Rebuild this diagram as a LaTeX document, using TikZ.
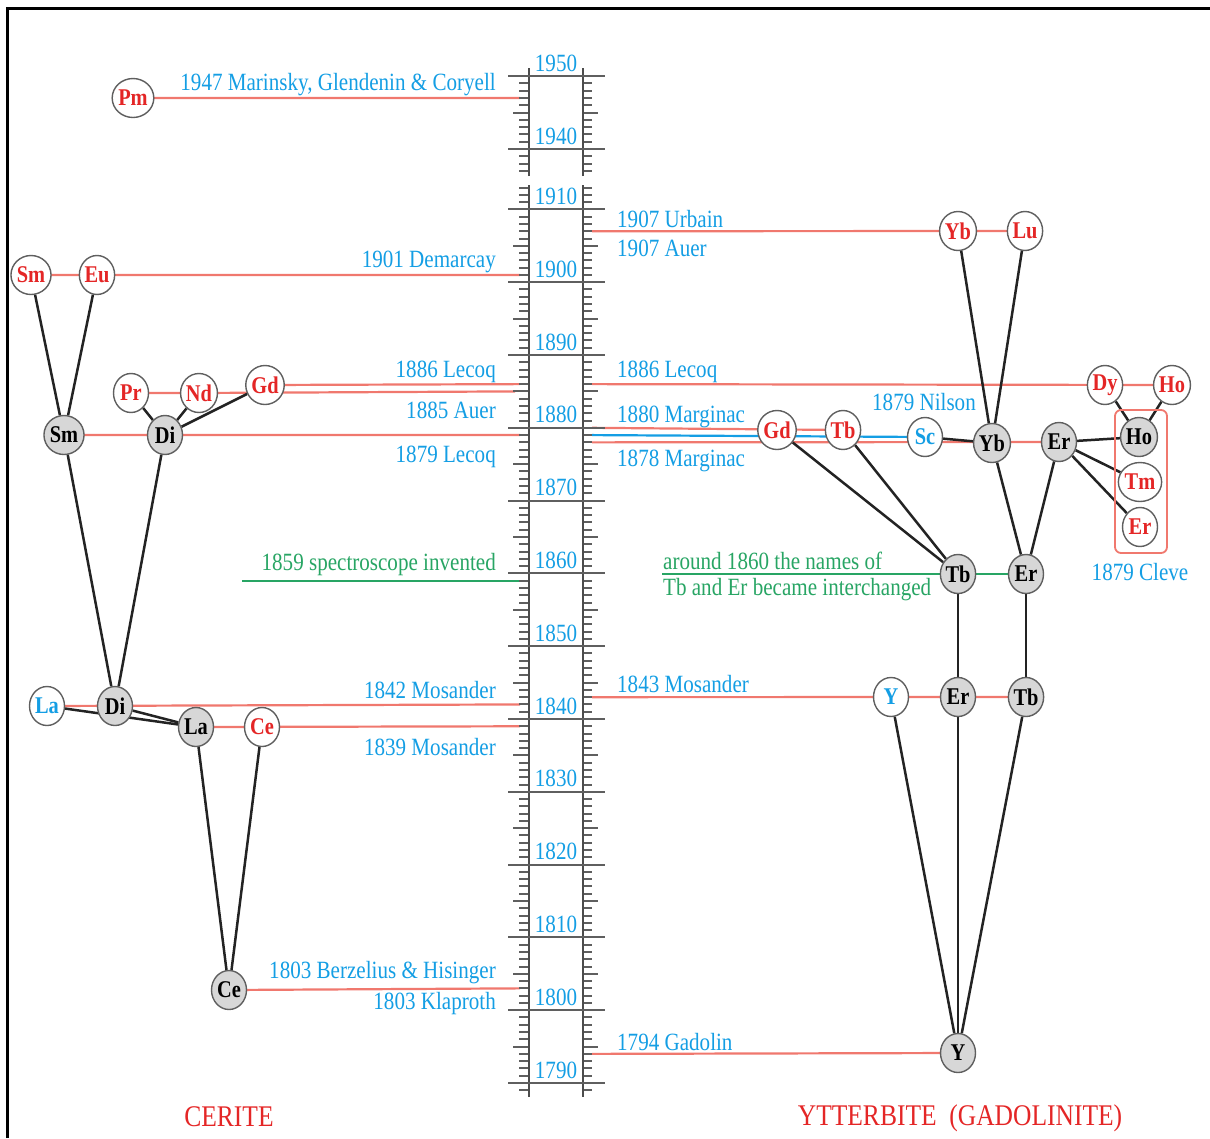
\documentclass[tikz,border=0pt]{standalone}
\usepackage{fontspec}
\setmainfont{Liberation Serif}[FakeStretch=0.85]
\usetikzlibrary{shapes.geometric,backgrounds}
\definecolor{tblue}{RGB}{20,158,228}
\definecolor{tred}{RGB}{228,38,38}
\definecolor{rline}{RGB}{240,120,110}
\definecolor{tgreen}{RGB}{40,165,100}
\definecolor{oldfill}{RGB}{215,215,215}
\definecolor{nodeborder}{RGB}{95,95,95}
\definecolor{connc}{RGB}{35,35,35}
\definecolor{tickc}{RGB}{95,95,95}
\newcommand\myelfont{\bfseries\fontsize{24}{26}\selectfont}
\newcommand\mylblfont{\fontsize{24.8}{28}\selectfont}
\newcommand\mytitlefont{\fontsize{30}{34}\selectfont}
\begin{document}
\begin{tikzpicture}[x=1pt,y=-1pt,
  declare function={yr(\t)=1083-(\t-1790)*7.28; yu(\t)=149-(\t-1940)*7.3;},
  el/.style={ellipse, draw=nodeborder, line width=1.4pt, minimum width=35pt, minimum height=39pt, inner sep=0pt, font=\myelfont},
  newel/.style={el, fill=white, text=tred},
  newbl/.style={el, fill=white, text=tblue},
  oldel/.style={el, fill=oldfill, text=black},
  rl/.style={draw=rline, line width=2.2pt},
  bll/.style={draw=tblue, line width=2.2pt},
  gl/.style={draw=tgreen, line width=2.2pt},
  conn/.style={draw=connc, line width=2.5pt},
  lbl/.style={font=\mylblfont, text=tblue, inner sep=0pt},
  glbl/.style={lbl, text=tgreen},
  ttl/.style={font=\mytitlefont, text=tred, inner sep=0pt},
  tck/.style={draw=tickc, line width=2pt},
  rail/.style={draw=tickc!80!black, line width=2.2pt}
]
\useasboundingbox (0,0) rectangle (1210,1138);
% frame
\draw[line width=3pt] (7,1138) -- (7,8) -- (1210,8);

% ---- axis ----
\foreach \t in {1789,...,1913} {
  \draw[tck] (519,{yr(\t)}) -- (529,{yr(\t)});
  \draw[tck] (583,{yr(\t)}) -- (592,{yr(\t)});
}
\foreach \t in {1795,1805,...,1905} {
  \draw[tck] (513,{yr(\t)}) -- (529,{yr(\t)});
  \draw[tck] (583,{yr(\t)}) -- (598,{yr(\t)});
}
\foreach \t in {1937,...,1950} {
  \draw[tck] (519,{yu(\t)}) -- (529,{yu(\t)});
  \draw[tck] (583,{yu(\t)}) -- (592,{yu(\t)});
}
\draw[tck] (513,{yu(1945)}) -- (529,{yu(1945)});
\draw[tck] (583,{yu(1945)}) -- (598,{yu(1945)});
\draw[rail] (529,{yr(1788.1)}) -- (529,{yr(1913.4)});
\draw[rail] (583,{yr(1788.1)}) -- (583,{yr(1913.4)});
\draw[rail] (529,{yu(1936.3)}) -- (529,{yu(1951.1)});
\draw[rail] (583,{yu(1936.3)}) -- (583,{yu(1951.1)});
\foreach \t in {1790,1800,...,1910} {
  \draw[tck] (508,{yr(\t)}) -- (605,{yr(\t)});
  \node[lbl] (ax\t) at (556,{yr(\t)-13}) {\t};
}
\foreach \t in {1940,1950} {
  \draw[tck] (508,{yu(\t)}) -- (605,{yu(\t)});
  \node[lbl] (ax\t) at (556,{yu(\t)-13}) {\t};
}

% ---- left nodes (CERITE) ----
\node[newel] (Pm) at (133,98) {Pm};
\node[newel] (SmA) at (31,275) {Sm};
\node[newel] (Eu) at (97,275) {Eu};
\node[newel] (Pr) at (131,393) {Pr};
\node[newel] (Nd) at (199,393) {Nd};
\node[newel] (GdL) at (265,385) {Gd};
\node[oldel] (SmB) at (64,435) {Sm};
\node[oldel] (DiA) at (165,435) {Di};
\node[newbl] (LaB) at (47,706) {La};
\node[oldel] (DiB) at (115,706) {Di};
\node[oldel] (LaA) at (196,727) {La};
\node[newel] (CeB) at (262,727) {Ce};
\node[oldel] (CeA) at (229,990) {Ce};

% ---- right nodes (YTTERBITE) ----
\node[newel] (YbW) at (958,231) {Yb};
\node[newel] (Lu) at (1025,231) {Lu};
\node[newel] (Dy) at (1105,385) {Dy};
\node[newel] (HoW) at (1172,385) {Ho};
\node[newel] (GdR) at (777,430) {Gd};
\node[newel] (TbR) at (843,430) {Tb};
\node[newbl] (Sc) at (925,437) {Sc};
\node[oldel] (YbG) at (992,443) {Yb};
\node[oldel] (ErA) at (1059,442) {Er};
\node[oldel] (HoG) at (1139,437) {Ho};
\node[newel] (Tm) at (1140,482) {Tm};
\node[newel] (ErW) at (1140,527) {Er};
\node[oldel] (TbB) at (958,574) {Tb};
\node[oldel] (ErB) at (1026,574) {Er};
\node[newbl] (YW) at (891,697) {Y};
\node[oldel] (ErC) at (958,697) {Er};
\node[oldel] (TbC) at (1026,697) {Tb};
\node[oldel] (YG) at (958,1053) {Y};

\draw[rline, line width=1.8pt, rounded corners=6pt] (1115,410) rectangle (1167,553);

% ---- line end points at the axis ----
\coordinate (e1947) at (520,{yu(1947)});
\coordinate (e1901) at (520,{yr(1901)});
\coordinate (e1886L) at (520,{yr(1886)});
\coordinate (e1885) at (515,{yr(1885)});
\coordinate (e1879L) at (520,{yr(1879)});
\coordinate (e1859a) at (242,{yr(1859)});
\coordinate (e1859b) at (520,{yr(1859)});
\coordinate (e1842) at (520,{yr(1842)});
\coordinate (e1839) at (520,{yr(1839)});
\coordinate (e1803) at (520,{yr(1803)});
\coordinate (e1907) at (592,{yr(1907)});
\coordinate (e1886R) at (592,{yr(1886)});
\coordinate (e1880) at (592,{yr(1880)});
\coordinate (e1879R) at (592,{yr(1879)});
\coordinate (e1878) at (592,{yr(1878)});
\coordinate (e1860) at (662,574);
\coordinate (e1843) at (592,{yr(1843)});
\coordinate (e1794) at (592,{yr(1794)});
\coordinate (gA1) at (520,{yr(1879)});
\coordinate (gA2) at (529,{yr(1879)});
\coordinate (gB1) at (583,{yr(1879)});
\coordinate (gB2) at (592,{yr(1879)});

\begin{pgfonlayer}{background}
  % dated lines
  \draw[rl] (Pm.center) -- (e1947);
  \draw[rl] (SmA.center) -- (e1901);
  \draw[rl] (GdL.center) -- (e1886L);
  \draw[rl] (Pr.center) -- (Nd.center) -- (e1885);
  \draw[rl] (SmB.center) -- (e1879L);
  \draw[gl] (e1859a) -- (e1859b);
  \draw[rl] (LaB.center) -- (e1842);
  \draw[rl] (LaA.center) -- (e1839);
  \draw[rl] (CeA.center) -- (e1803);
  \draw[rl] (e1907) -- (Lu.center);
  \draw[rl] (e1886R) -- (HoW.center);
  \draw[rl] (e1880) -- (TbR.center);
  \draw[bll] (e1879R) -- (Sc.center);
  \draw[rl] (e1878) -- (ErA.center);
  \draw[gl] (e1860) -- (ErB.center);
  \draw[rl] (e1843) -- (TbC.center);
  \draw[rl] (e1794) -- (YG.center);
  \draw[gl] (gA1) -- (gA2);
  \draw[gl] (gB1) -- (gB2);
  % connectors
  \draw[conn] (SmA) -- (SmB);
  \draw[conn] (Eu) -- (SmB);
  \draw[conn] (Pr) -- (DiA);
  \draw[conn] (Nd) -- (DiA);
  \draw[conn] (GdL) -- (DiA);
  \draw[conn] (SmB) -- (DiB);
  \draw[conn] (DiA) -- (DiB);
  \draw[conn] (LaA.center) -- (LaB.center);
  \draw[conn] (LaA) -- (DiB);
  \draw[conn] (CeA) -- (LaA);
  \draw[conn] (CeA) -- (CeB);
  \draw[conn] (YbG) -- (YbW);
  \draw[conn] (YbG) -- (Lu);
  \draw[conn] (Dy) -- (HoG);
  \draw[conn] (HoW) -- (HoG);
  \draw[conn] (ErA) -- (HoG);
  \draw[conn] (ErA) -- (Tm);
  \draw[conn] (ErA) -- (ErW);
  \draw[conn] (Sc) -- (YbG);
  \draw[conn] (GdR) -- (TbB);
  \draw[conn] (TbR) -- (TbB);
  \draw[conn] (YbG) -- (ErB);
  \draw[conn] (ErA) -- (ErB);
  \draw[conn] (TbB) -- (ErC);
  \draw[conn] (ErB) -- (TbC);
  \draw[conn] (YG) -- (YW);
  \draw[conn] (YG) -- (ErC);
  \draw[conn] (YG) -- (TbC);
\end{pgfonlayer}

% ---- labels ----
\node[lbl, anchor=east] (t1947) at (496,85) {1947 Marinsky, Glendenin \& Coryell};
\node[lbl, anchor=east] (t1901) at (496,262) {1901 Demarcay};
\node[lbl, anchor=east] (t1886L) at (496,372) {1886 Lecoq};
\node[lbl, anchor=east] (t1885) at (496,410) {1885 Auer};
\node[lbl, anchor=east] (t1879L) at (496,457) {1879 Lecoq};
\node[glbl, anchor=east] (t1859) at (496,565) {1859 spectroscope invented};
\node[lbl, anchor=east] (t1842) at (496,690) {1842 Mosander};
\node[lbl, anchor=east] (t1839) at (496,747) {1839 Mosander};
\node[lbl, anchor=east] (t1803a) at (496,973) {1803 Berzelius \& Hisinger};
\node[lbl, anchor=east] (t1803b) at (496,1004) {1803 Klaproth};

\node[lbl, anchor=west] (t1907a) at (617,219) {1907 Urbain};
\node[lbl, anchor=west] (t1907b) at (617,248) {1907 Auer};
\node[lbl, anchor=west] (t1886R) at (617,372) {1886 Lecoq};
\node[lbl, anchor=west] (t1880) at (617,417) {1880 Marginac};
\node[lbl, anchor=west] (t1878) at (617,461) {1878 Marginac};
\node[lbl] (t1879N) at (924,402) {1879 Nilson};
\node[lbl] (t1879C) at (1140,572) {1879 Cleve};
\node[glbl, anchor=west] (t1860a) at (663,561) {around 1860 the names of};
\node[glbl, anchor=west] (t1860b) at (663,590) {Tb and Er became interchanged};
\node[lbl, anchor=west] (t1843) at (617,684) {1843 Mosander};
\node[lbl, anchor=west] (t1794) at (617,1042) {1794 Gadolin};

\node[ttl] (cerite) at (229,1117) {CERITE};
\node[ttl] (ytt) at (960,1118) {YTTERBITE\ \ (GADOLINITE)};
\end{tikzpicture}
\end{document}
